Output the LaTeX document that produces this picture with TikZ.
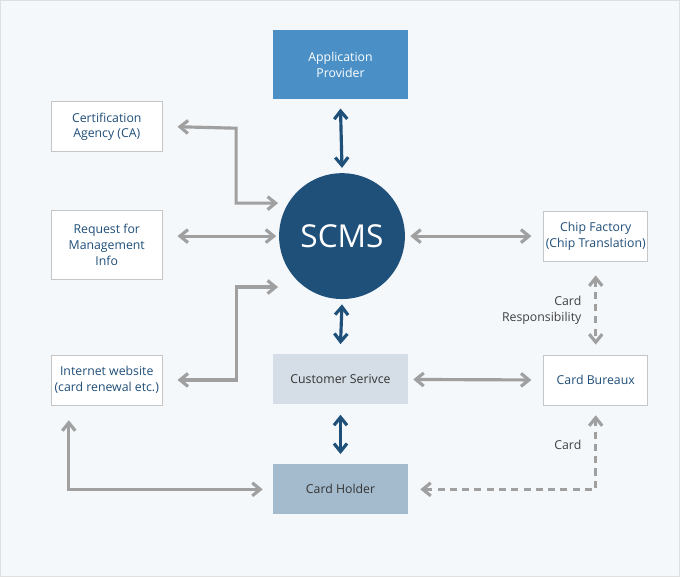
\documentclass[tikz,border=0pt]{standalone}
\usepackage{fontspec}
\setmainfont{Open Sans}
\usepackage{tikz}
\usetikzlibrary{arrows.meta,positioning}
\definecolor{navy}{HTML}{1E5079}
\definecolor{txtblue}{HTML}{1F4E79}
\definecolor{gline}{HTML}{A0A0A0}
\definecolor{bgcol}{HTML}{F4F8FB}
\definecolor{appblue}{HTML}{4A90C6}
\definecolor{custgray}{HTML}{D5DEE6}
\definecolor{holdgray}{HTML}{A4BBCD}
\begin{document}
\begin{tikzpicture}[x=0.02cm,y=-0.02cm,font=\fontsize{7}{9}\selectfont]
\fill[bgcol,draw=gray!25] (0,0) rectangle (680,577);
\begin{scope}[every node/.style={rectangle,draw=gray!45,fill=white,text=txtblue,align=center,minimum width=2.22cm,minimum height=1cm,inner sep=1pt}]
	\node[fill=appblue,draw=none,text=white,minimum width=2.7cm,minimum height=1.38cm] (app) at (340.5,64.5) {Application\\Provider};
	\node (ca) at (106.5,126.5) {Certification\\Agency (CA)};
	\node[minimum height=1.38cm] (req) at (106.5,244.5) {Request for\\Management\\Info};
	\node (web) at (106.5,380) {Internet website\\(card renewal etc.)};
	\node[minimum width=2.08cm] (chip) at (596,236) {Chip Factory\\(Chip Translation)};
	\node[fill=custgray,draw=none,text=black!80,minimum width=2.7cm] (cust) at (340.5,379.5) {Customer Serivce};
	\node[minimum width=2.08cm] (bur) at (596,380) {Card Bureaux};
	\node[fill=holdgray,draw=none,text=black!80,minimum width=2.7cm] (hold) at (340.5,489.5) {Card Holder};
\end{scope}
\node[circle,fill=navy,text=white,minimum size=2.52cm,font=\fontsize{18}{20}\selectfont] (scms) at (342,236) {SCMS};

\begin{scope}[line width=1.8pt,{Straight Barb[length=1.6mm,width=2.6mm]}-{Straight Barb[length=1.6mm,width=2.6mm]}]
	\draw[navy] ([yshift=-0.18cm]app.south) -- ([yshift=0.1cm]scms.north);
	\draw[navy] ([yshift=-0.1cm]scms.south) -- ([yshift=0.2cm]cust.north);
	\draw[navy] ([yshift=-0.2cm]cust.south) -- ([yshift=0.2cm]hold.north);
	\draw[gline] ([xshift=0.3cm]ca.east) -- (236,128) |- (278,203);
	\draw[gline] ([xshift=0.3cm]req.east |- scms.west) -- ([xshift=-0.05cm]scms.west);
	\draw[gline] ([xshift=0.3cm]web.east) -- (236,380) |- (278,287);
	\draw[gline] ([xshift=0.1cm]scms.east) -- ([xshift=-0.24cm]chip.west);
	\draw[gline] ([xshift=0.1cm]cust.east) -- ([xshift=-0.24cm]bur.west);
	\draw[gline] ([shift={(-0.76cm,-0.3cm)}]web.south) |- ([xshift=-0.2cm]hold.west);
	\draw[gline,dash pattern=on 4pt off 3pt] ([yshift=-0.28cm]chip.south) -- node[left=4pt,align=right,text=black!75] {Card\\Responsibility} ([yshift=0.2cm]bur.north);
	\draw[gline,dash pattern=on 4pt off 3pt] ([yshift=-0.2cm]bur.south) |- node[pos=0.2,left=4pt,text=black!75] {Card} ([xshift=0.24cm]hold.east);
\end{scope}
\end{tikzpicture}
\end{document}
